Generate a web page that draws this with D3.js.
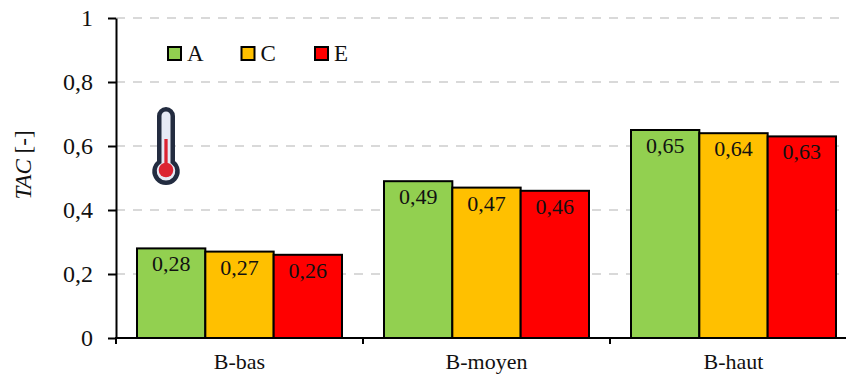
<!DOCTYPE html>
<html><head><meta charset="utf-8">
<script src="https://cdn.jsdelivr.net/npm/d3@7"></script>
<style>html,body{margin:0;padding:0;background:#fff}svg{display:block}text{font-family:"Liberation Serif",serif;fill:#111}</style>
</head><body><div id="c"></div>
<script>
const categories=["B-bas","B-moyen","B-haut"];
const seriesNames=["A","C","E"];
const seriesA=[0.28,0.49,0.65];
const seriesC=[0.27,0.47,0.64];
const seriesE=[0.26,0.46,0.63];
const seriesValues=[seriesA,seriesC,seriesE];
const colors=["#92D050","#FFC000","#FF0000"];
const yTicks=[0,0.2,0.4,0.6,0.8,1];
const W=846,H=374;
const svg=d3.select("#c").append("svg").attr("width",W).attr("height",H);
const y=d3.scaleLinear().domain([0,1]).range([338,18]);
const x0=d3.scaleBand().domain(categories).range([116,857]);
const x1=d3.scaleBand().domain(seriesNames).range([21,226]);
const fmt=v=>String(v).replace(".",",");
// grid
svg.selectAll("line.g").data(yTicks.slice(1)).join("line").attr("class","g")
 .attr("x1",116).attr("x2",846).attr("y1",d=>y(d)).attr("y2",d=>y(d))
 .attr("stroke","#d9d9d9").attr("stroke-width",2).attr("stroke-dasharray","9 8");
// bars
seriesNames.forEach((s,i)=>{
 const g=svg.append("g");
 g.selectAll("rect").data(categories).join("rect")
  .attr("x",c=>x0(c)+x1(s)).attr("width",x1.bandwidth())
  .attr("y",(c,j)=>y(seriesValues[i][j])).attr("height",(c,j)=>y(0)-y(seriesValues[i][j]))
  .attr("fill",colors[i]).attr("stroke","#000").attr("stroke-width",2);
 g.selectAll("text").data(categories).join("text")
  .attr("x",c=>x0(c)+x1(s)+x1.bandwidth()/2)
  .attr("y",(c,j)=>y(seriesValues[i][j])+23)
  .attr("text-anchor","middle").attr("font-size",22)
  .text((c,j)=>fmt(seriesValues[i][j]));
});
// axes
const ax=svg.append("g").attr("transform","translate(116,0)").call(d3.axisLeft(y).tickValues(yTicks).tickFormat(fmt).tickSize(8).tickPadding(15).tickSizeOuter(0));
ax.select(".domain").attr("stroke","#000").attr("stroke-width",2);
ax.selectAll(".tick line").attr("stroke","#000").attr("stroke-width",2);
ax.selectAll("text").attr("font-size",24).attr("font-family",'"Liberation Serif",serif').attr("fill","#111");
svg.append("line").attr("x1",116).attr("x2",116).attr("y1",338).attr("y2",344).attr("stroke","#000").attr("stroke-width",2);
svg.append("line").attr("x1",115).attr("x2",846).attr("y1",338).attr("y2",338).attr("stroke","#000").attr("stroke-width",2);
svg.selectAll("line.t").data(categories.slice(1)).join("line").attr("class","t")
 .attr("x1",c=>x0(c)).attr("x2",c=>x0(c)).attr("y1",338).attr("y2",344).attr("stroke","#000").attr("stroke-width",2);
svg.selectAll("text.c").data(categories).join("text").attr("class","c")
 .attr("x",c=>x0(c)+x1.range()[0]+(x1.range()[1]-x1.range()[0])/2).attr("y",368.5)
 .attr("text-anchor","middle").attr("font-size",22).text(c=>c);
// y title
const yt=svg.append("text").attr("transform","translate(31,165) rotate(-90)").attr("text-anchor","middle").attr("font-size",23);
yt.append("tspan").attr("font-style","italic").text("TAC");
yt.append("tspan").text(" [-]");
// legend
const legendX=d3.scalePoint().domain(seriesNames).range([168,315]);
const lg=svg.selectAll("g.l").data(seriesNames).join("g").attr("class","l").attr("transform",d=>`translate(${legendX(d)},47)`);
lg.append("rect").attr("width",13).attr("height",13).attr("fill",(d,i)=>colors[i]).attr("stroke","#000").attr("stroke-width",2);
lg.append("text").attr("x",19).attr("y",14).attr("font-size",23).text(d=>d);
// thermometer icon
const th=svg.append("g");
const outline="M159.25,116 a6.75,6.75 0 0 1 13.5,0 V162 a11.5,11.5 0 1 1 -13.5,0 Z";
th.append("path").attr("d",outline).attr("fill","#e6eaf5").attr("stroke","#232c40").attr("stroke-width",4.5);
th.append("line").attr("x1",166).attr("x2",166).attr("y1",139).attr("y2",168).attr("stroke","#dc2432").attr("stroke-width",3.3);
th.append("circle").attr("cx",166).attr("cy",170).attr("r",7.3).attr("fill","#dc2432");
</script></body></html>
